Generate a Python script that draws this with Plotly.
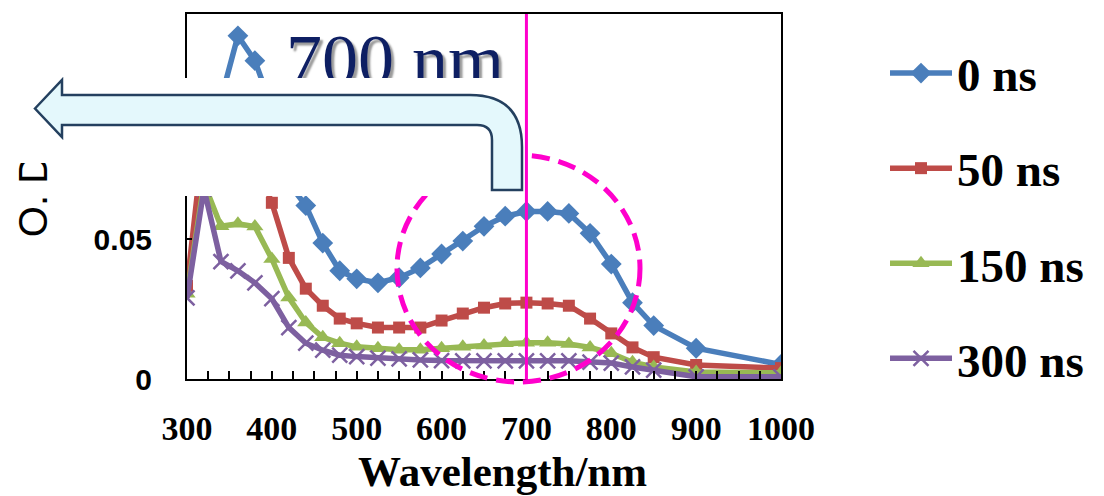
import plotly.graph_objects as go

# ---------------- data ----------------
wavelength = [300, 320, 340, 360, 380, 400, 420, 440, 460, 480, 500,
              525, 550, 575, 600, 625, 650, 675, 700, 725, 750, 775,
              800, 825, 850, 900, 1000]

od_0ns = [0.075, 0.088, 0.100, 0.1227, 0.1138, 0.097, 0.070, 0.062, 0.0486, 0.0387, 0.0358,
          0.0344, 0.0362, 0.0397, 0.0447, 0.0493, 0.0546, 0.0582, 0.0599, 0.0599, 0.0592, 0.0521,
          0.0411, 0.0273, 0.0191, 0.0110, 0.0052]

od_50ns = [0.0333, 0.0876, 0.095, 0.090, 0.078, 0.063, 0.0433, 0.0323, 0.0262, 0.0216, 0.0199,
           0.0184, 0.0184, 0.0184, 0.0209, 0.0234, 0.0255, 0.0270, 0.0273, 0.0270, 0.0262, 0.0216,
           0.0163, 0.0113, 0.0078, 0.0050, 0.0039]

od_150ns = [0.0305, 0.070, 0.0546, 0.0555, 0.0545, 0.0429, 0.0291, 0.0202, 0.0149, 0.0128, 0.0115,
            0.0110, 0.0105, 0.0105, 0.0110, 0.0115, 0.0120, 0.0128, 0.0130, 0.0130, 0.0125, 0.0113,
            0.0092, 0.0060, 0.0043, 0.0025, 0.0022]

od_300ns = [0.0290, 0.068, 0.0420, 0.0387, 0.0344, 0.0287, 0.0184, 0.0128, 0.0103, 0.0085, 0.0080,
            0.0075, 0.0072, 0.0068, 0.0066, 0.0065, 0.0065, 0.0065, 0.0065, 0.0065, 0.0065, 0.0060,
            0.0057, 0.0043, 0.0032, 0.0008, 0.0008]

series_names = ["0 ns", "50 ns", "150 ns", "300 ns"]
series_values = [od_0ns, od_50ns, od_150ns, od_300ns]

x_ticks = [300, 400, 500, 600, 700, 800, 900, 1000]
marked_wavelength = 700

# ---------------- styles ----------------
colors = ["#4A7EBB", "#BE4B48", "#98B954", "#7D60A0"]
symbols = ["diamond", "square", "triangle-up", "x-thin"]
msizes = [16, 12, 15, 15]

W, H = 1104, 496
L, R, T, B = 187, 781, 14, 379  # plot area in pixels


def px(x):
    return (x - L) / (R - L)


def py(y):
    return (B - y) / (B - T)


fig = go.Figure()

for name, vals, c, s, ms in zip(series_names, series_values, colors, symbols, msizes):
    fig.add_trace(go.Scatter(
        x=wavelength, y=vals, name=name, mode="lines+markers",
        legendgroup=name,
        line=dict(color=c, width=5.5),
        marker=dict(symbol=s, size=ms, color=c,
                    line=dict(color=c, width=2.5 if s == "x-thin" else 0)),
    ))

# "700 nm" label (partly hidden by the slide overlay, as in the reference)
fig.add_trace(go.Scatter(
    x=[545], y=[0.1119], mode="text", text=["700 nm"],
    textposition="middle center", showlegend=False, hoverinfo="skip",
    textfont=dict(family="Liberation Serif", size=72, color="#0E1F63",
                  shadow="3px 3px 2px #9a9a9a"),
))

# dummy trace for the secondary axis that carries the rotated "O. D." label
fig.add_trace(go.Scatter(x=[None], y=[None], yaxis="y2", showlegend=False,
                         hoverinfo="skip"))

arrow_pts = [("M", 35, 108.5), ("L", 62, 80), ("L", 62, 95), ("L", 470, 95)]
path = ""
for cmd, xx, yy in arrow_pts:
    path += f"{cmd}{px(xx):.5f},{py(yy):.5f} "
path += f"Q{px(522):.5f},{py(95):.5f} {px(522):.5f},{py(147):.5f} "
path += f"L{px(522):.5f},{py(190):.5f} L{px(492):.5f},{py(190):.5f} L{px(492):.5f},{py(140):.5f} "
path += f"Q{px(492):.5f},{py(125):.5f} {px(477):.5f},{py(125):.5f} "
path += f"L{px(62):.5f},{py(125):.5f} L{px(62):.5f},{py(137):.5f} Z"

shapes = [
    # dashed circle around the 700 nm band
    dict(type="circle", xref="paper", yref="paper",
         x0=px(397), x1=px(640), y0=py(382), y1=py(155),
         line=dict(color="#FF00CC", width=5, dash="18px,9px"), layer="above"),
    # white slide overlay
    dict(type="rect", xref="paper", yref="paper",
         x0=px(-5), x1=px(523), y0=py(163), y1=py(78),
         fillcolor="white", line=dict(width=0), layer="above"),
    dict(type="rect", xref="paper", yref="paper",
         x0=px(55), x1=px(523), y0=py(196), y1=py(160),
         fillcolor="white", line=dict(width=0), layer="above"),
    # bent arrow
    dict(type="path", xref="paper", yref="paper", path=path,
         fillcolor="#E4F8FC", line=dict(color="#24405F", width=2.5), layer="above"),
    # vertical marker line at 700 nm
    dict(type="line", xref="x", yref="paper", x0=marked_wavelength, x1=marked_wavelength,
         y0=0, y1=1, line=dict(color="#FF00CC", width=3), layer="above"),
]

fig.update_layout(
    width=W, height=H, autosize=False,
    margin=dict(l=L, r=W - R, t=T, b=H - B, pad=0),
    paper_bgcolor="white", plot_bgcolor="white",
    showlegend=True,
    legend=dict(x=px(885), y=py(36), xanchor="left", yanchor="top",
                font=dict(family="Liberation Serif", size=47, color="black", weight="bold"),
                itemwidth=62, tracegroupgap=31, maxheight=1.0,
                bgcolor="rgba(0,0,0,0)"),
    xaxis=dict(range=[300, 1000], tickvals=x_ticks, showgrid=False, zeroline=False,
               showline=True, linecolor="black", linewidth=2, mirror=True,
               ticks="inside", ticklen=8, tickwidth=2, tickcolor="black",
               minor=dict(dtick=25, tick0=300, ticks="inside", ticklen=8, tickwidth=2,
                          tickcolor="black", showgrid=False),
               tickfont=dict(family="Liberation Serif", size=34, color="black", weight="bold"),
               ticklabelstandoff=18),
    yaxis=dict(range=[0, 0.1305], dtick=0.05, showgrid=False, zeroline=False,
               showline=True, linecolor="black", linewidth=2, mirror=True,
               ticks="inside", ticklen=5, tickwidth=2, tickcolor="black",
               tickfont=dict(family="Liberation Sans", size=30, color="black", weight="bold"),
               ticklabelstandoff=27),
    yaxis2=dict(overlaying="y", side="left", anchor="free", position=0, range=[0, 1],
                tickvals=[0.5], ticktext=["O. D."], tickangle=-90,
                showgrid=False, zeroline=False, showline=False, ticks="",
                tickfont=dict(family="Liberation Sans", size=40, color="black"),
                ticklabelstandoff=132),
    shapes=shapes,
    annotations=[dict(text="Wavelength/nm", xref="paper", yref="paper",
                      x=px(502), y=py(497), xanchor="center", yanchor="bottom",
                      showarrow=False,
                      font=dict(family="Liberation Serif", size=43, color="black",
                                weight="bold"))],
)

fig.write_html("out.html", config={"displayModeBar": False},
               post_script="document.body.style.margin='0';")
